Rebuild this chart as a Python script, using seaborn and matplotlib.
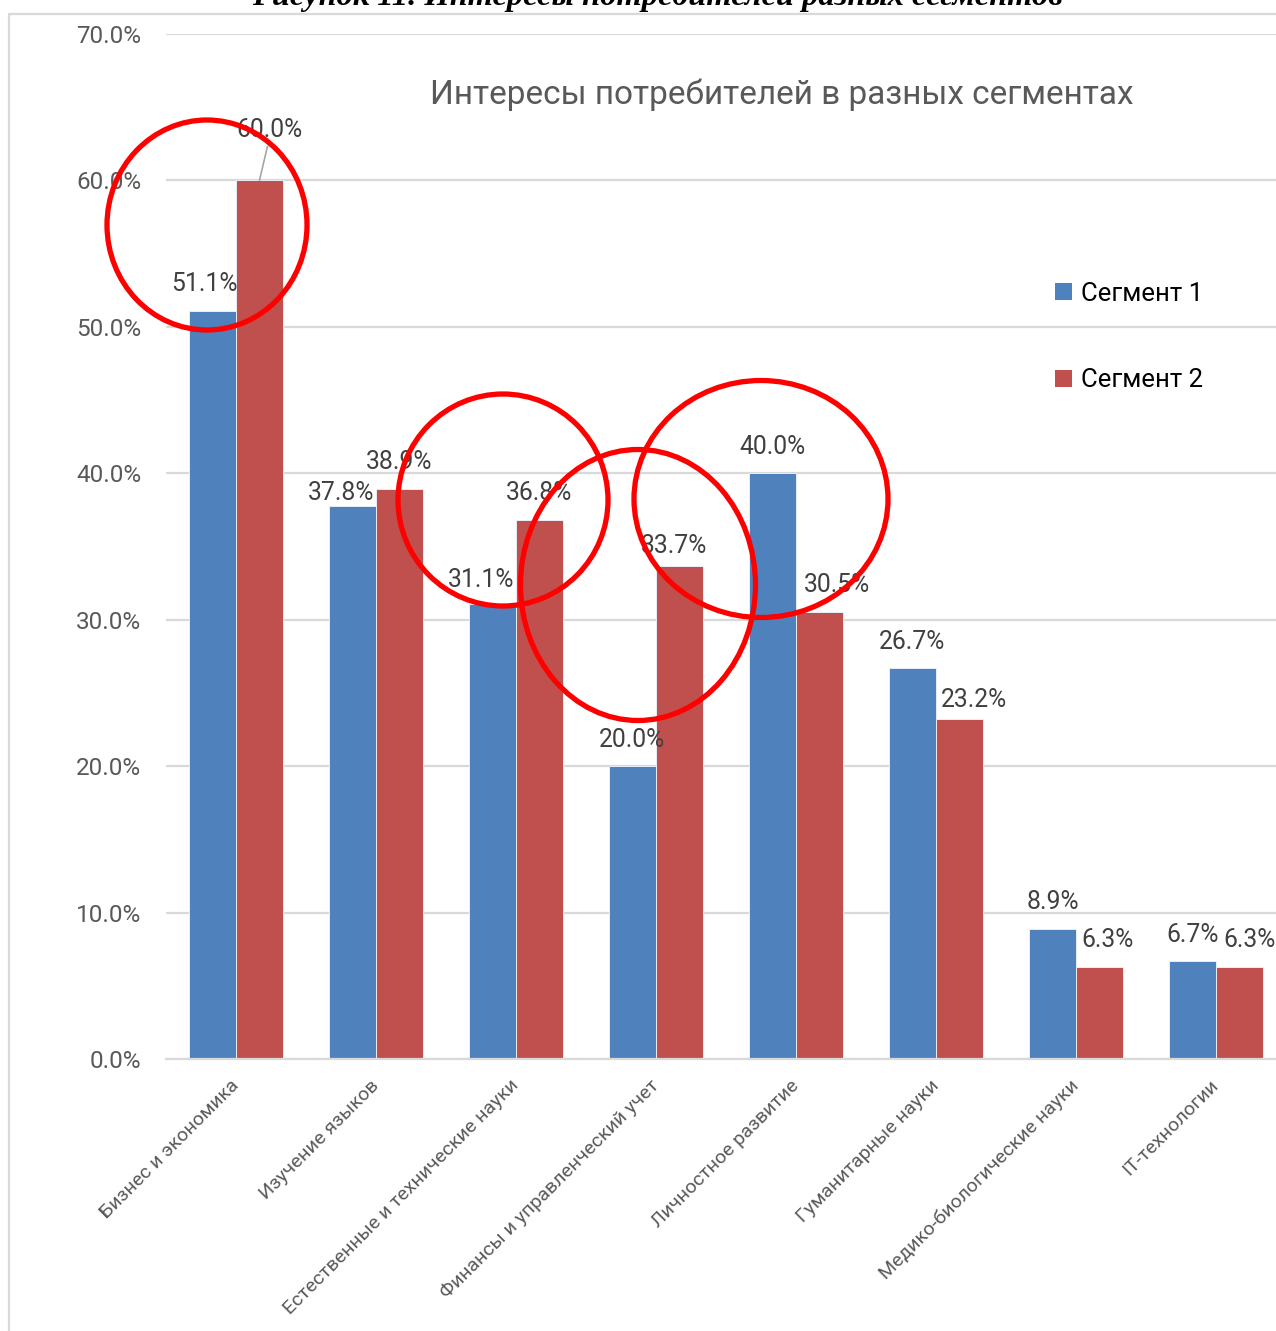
import matplotlib
matplotlib.use("Agg")
import matplotlib.pyplot as plt
from matplotlib.patches import Ellipse, Patch
from matplotlib.lines import Line2D
import pandas as pd
import seaborn as sns

# ---- data -------------------------------------------------------------
categories = [
    "Бизнес и экономика",
    "Изучение языков",
    "Естественные и технические науки",
    "Финансы и управленческий учет",
    "Личностное развитие",
    "Гуманитарные науки",
    "Медико-биологические науки",
    "IT-технологии",
]
segment_1 = [51.1, 37.8, 31.1, 20.0, 40.0, 26.7, 8.9, 6.7]
segment_2 = [60.0, 38.9, 36.8, 33.7, 30.5, 23.2, 6.3, 6.3]
series_names = ["Сегмент 1", "Сегмент 2"]
y_ticks = [0, 10, 20, 30, 40, 50, 60, 70]

chart_title = "Интересы потребителей в разных сегментах"
caption = "Рисунок 11. Интересы потребителей разных сегментов"

# ---- label placement (pixel offsets from the top centre of each bar) ----
label_dx = [[-8, -11, -11, -1, 0, 0, 0, 0],
            [10, 0, 0, -5, 18, 15, 8, 10]]
label_dy = [[27, 13, 24, 26, 26, 26, 27, 26],
            [50, 27, 27, 20, 27, 19, 27, 27]]

# hand-drawn highlight rings (figure pixels: cx, cy, w, h)
rings = [(207, 225, 200, 210),
         (503, 500, 210, 212),
         (638, 585, 235, 271),
         (761, 499, 254, 237)]

# ---- styling ----------------------------------------------------------
sns.set_theme(style="white")
plt.rcParams["font.family"] = ["Roboto", "DejaVu Sans"]

colors = ["#4F81BD", "#C0504D"]
grid_c = "#D9D9D9"
text_c = "#595959"
label_c = "#404040"

W, H = 1276, 1331
fig = plt.figure(figsize=(W / 100, H / 100), dpi=100)

left_px, right_px, top_px, base_px = 166, 1276, 34, 1059
ax = fig.add_axes([left_px / W, 1 - base_px / H,
                   (right_px - left_px) / W, (base_px - top_px) / H])

df = pd.DataFrame({
    "category": categories * 2,
    "value": segment_1 + segment_2,
    "series": [series_names[0]] * len(categories) + [series_names[1]] * len(categories),
})

sns.barplot(data=df, x="category", y="value", hue="series", order=categories,
            hue_order=series_names, palette=colors, width=0.67, dodge=True,
            edgecolor="#E8EEF6", linewidth=0.7, saturation=1, ax=ax, legend=False,
            zorder=3)

ax.set_yticks(y_ticks)
ax.set_yticklabels([f"{v:.1f}%" for v in y_ticks], fontsize=17.5, color=text_c)
ax.tick_params(axis="y", length=0, pad=18)

ax.set_xticks(range(len(categories)))
ax.set_xticklabels(categories, rotation=45, ha="right", va="center",
                   rotation_mode="anchor", fontsize=14, color=text_c)
ax.tick_params(axis="x", which="major", length=0, pad=17)
ax.set_xticks([i - 0.5 for i in range(len(categories) + 1)], minor=True)
ax.tick_params(axis="x", which="minor", length=6, width=1.6, color=grid_c,
               direction="out")

# each category slot spans 140 px; the last slot runs past the right edge
cat_px = 140.0
ax.set_xlim(-0.5, -0.5 + (right_px - left_px) / cat_px)
ax.set_ylim(0, 70)

ax.grid(axis="y", color=grid_c, linewidth=1.6, zorder=0)
ax.set_axisbelow(True)
for s in ["top", "right", "left"]:
    ax.spines[s].set_visible(False)
ax.spines["bottom"].set_color(grid_c)
ax.spines["bottom"].set_linewidth(1.6)
ax.spines["bottom"].set_zorder(4)
ax.set_xlabel("")
ax.set_ylabel("")

# ---- value labels -------------------------------------------------------
for si, cont in enumerate(ax.containers):
    vals = [segment_1, segment_2][si]
    for ci, bar in enumerate(cont.patches):
        xc = bar.get_x() + bar.get_width() / 2
        v = vals[ci]
        dx, dy = label_dx[si][ci], label_dy[si][ci]
        ax.annotate(f"{v:.1f}%", xy=(xc, v), xytext=(dx, dy),
                    textcoords="offset pixels", ha="center", va="center",
                    fontsize=17.8, color=label_c, zorder=6, annotation_clip=False)
        if dy > 40:
            ax.annotate("", xy=(xc, v), xytext=(dx - 2, dy - 16),
                        textcoords="offset pixels",
                        arrowprops=dict(arrowstyle="-", color="#A6A6A6", lw=1.2,
                                        shrinkA=0, shrinkB=0),
                        zorder=5, annotation_clip=False)

# ---- legend -------------------------------------------------------------
handles = [Patch(facecolor=c, edgecolor="none") for c in colors]
leg = ax.legend(handles, series_names, loc="center left",
                bbox_to_anchor=(1055 / W, 1 - 337 / H), bbox_transform=fig.transFigure,
                frameon=False, fontsize=18.5, labelspacing=2.45, handlelength=0.68,
                handleheight=0.68, handletextpad=0.33, borderpad=0, borderaxespad=0)
for t in leg.get_texts():
    t.set_color("#000000")

# ---- titles -------------------------------------------------------------
fig.text(782 / W, 1 - 95 / H, chart_title, ha="center", va="center",
         fontsize=24, color=text_c)
fig.text(657 / W, 1 - 4.5 / H, caption, ha="center", va="baseline",
         fontsize=23.4, fontweight="bold", fontstyle="italic",
         family=["Liberation Serif", "DejaVu Serif"], color="#000000")

# ---- overlay: chart frame and highlight rings ---------------------------
ov = fig.add_axes([0, 0, 1, 1], zorder=10)
ov.set_xlim(0, W)
ov.set_ylim(H, 0)
ov.axis("off")
ov.patch.set_alpha(0)
ov.add_line(Line2D([9, 9], [14, H], color=grid_c, lw=1.6))
ov.add_line(Line2D([9, W], [14, 14], color=grid_c, lw=1.6))
for cx, cy, w, h in rings:
    ov.add_patch(Ellipse((cx, cy), w, h, fill=False, edgecolor="#FF0000", lw=3.8))

fig.savefig("out.png", dpi=100)
